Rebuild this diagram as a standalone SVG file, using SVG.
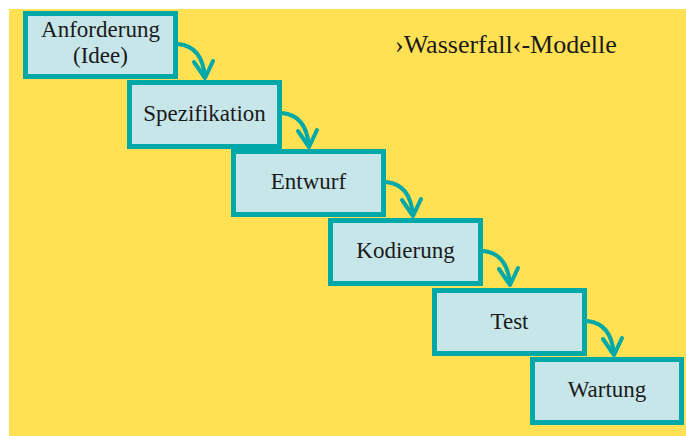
<svg xmlns="http://www.w3.org/2000/svg" width="686" height="436" viewBox="0 0 686 436">
<style>
.box{fill:#C6E6E9;stroke:#00A8A8;stroke-width:5}
.lbl{font-family:'Liberation Serif','Times New Roman','DejaVu Serif',serif;font-size:23px;fill:#1a1a1a;text-anchor:middle}
.con{fill:none;stroke:#00A8A8;stroke-width:4;stroke-linecap:round;stroke-linejoin:round}
.title{font-family:'Liberation Serif','Times New Roman','DejaVu Serif',serif;font-size:26px;fill:#1a1a1a}
</style>
<rect x="0" y="0" width="686" height="436" fill="#ffffff"/>
<rect x="9" y="9" width="677" height="427" fill="#FFE153"/>
<text class="title" x="395" y="53" font-family="Liberation Serif, serif">›Wasserfall‹-Modelle</text>
<g id="n1"><rect class="box" x="25.5" y="13.5" width="150" height="63"/><text class="lbl" x="100.5" y="37">Anforderung</text><text class="lbl" x="100.5" y="63">(Idee)</text></g>
<g id="n2"><rect class="box" x="129.5" y="82.5" width="150" height="64"/><text class="lbl" x="204.5" y="121">Spezifikation</text></g>
<g id="n3"><rect class="box" x="233.5" y="151.5" width="150" height="63"/><text class="lbl" x="308.5" y="189">Entwurf</text></g>
<g id="n4"><rect class="box" x="330.5" y="220.5" width="150" height="63"/><text class="lbl" x="405.5" y="258">Kodierung</text></g>
<g id="n5"><rect class="box" x="434.5" y="290.5" width="150" height="63"/><text class="lbl" x="509.5" y="329">Test</text></g>
<g id="n6"><rect class="box" x="532.5" y="359.5" width="149" height="63"/><text class="lbl" x="607" y="397">Wartung</text></g>
<g id="connectors">
<defs><path id="ar" d="M0,0 Q24,2 27,33 M16,18 L27,34 L35,17"/></defs>
<use href="#ar" class="con" x="178" y="44"/>
<use href="#ar" class="con" x="282" y="113"/>
<use href="#ar" class="con" x="386" y="182"/>
<use href="#ar" class="con" x="483" y="251"/>
<use href="#ar" class="con" x="587" y="321"/>
</g>
</svg>
